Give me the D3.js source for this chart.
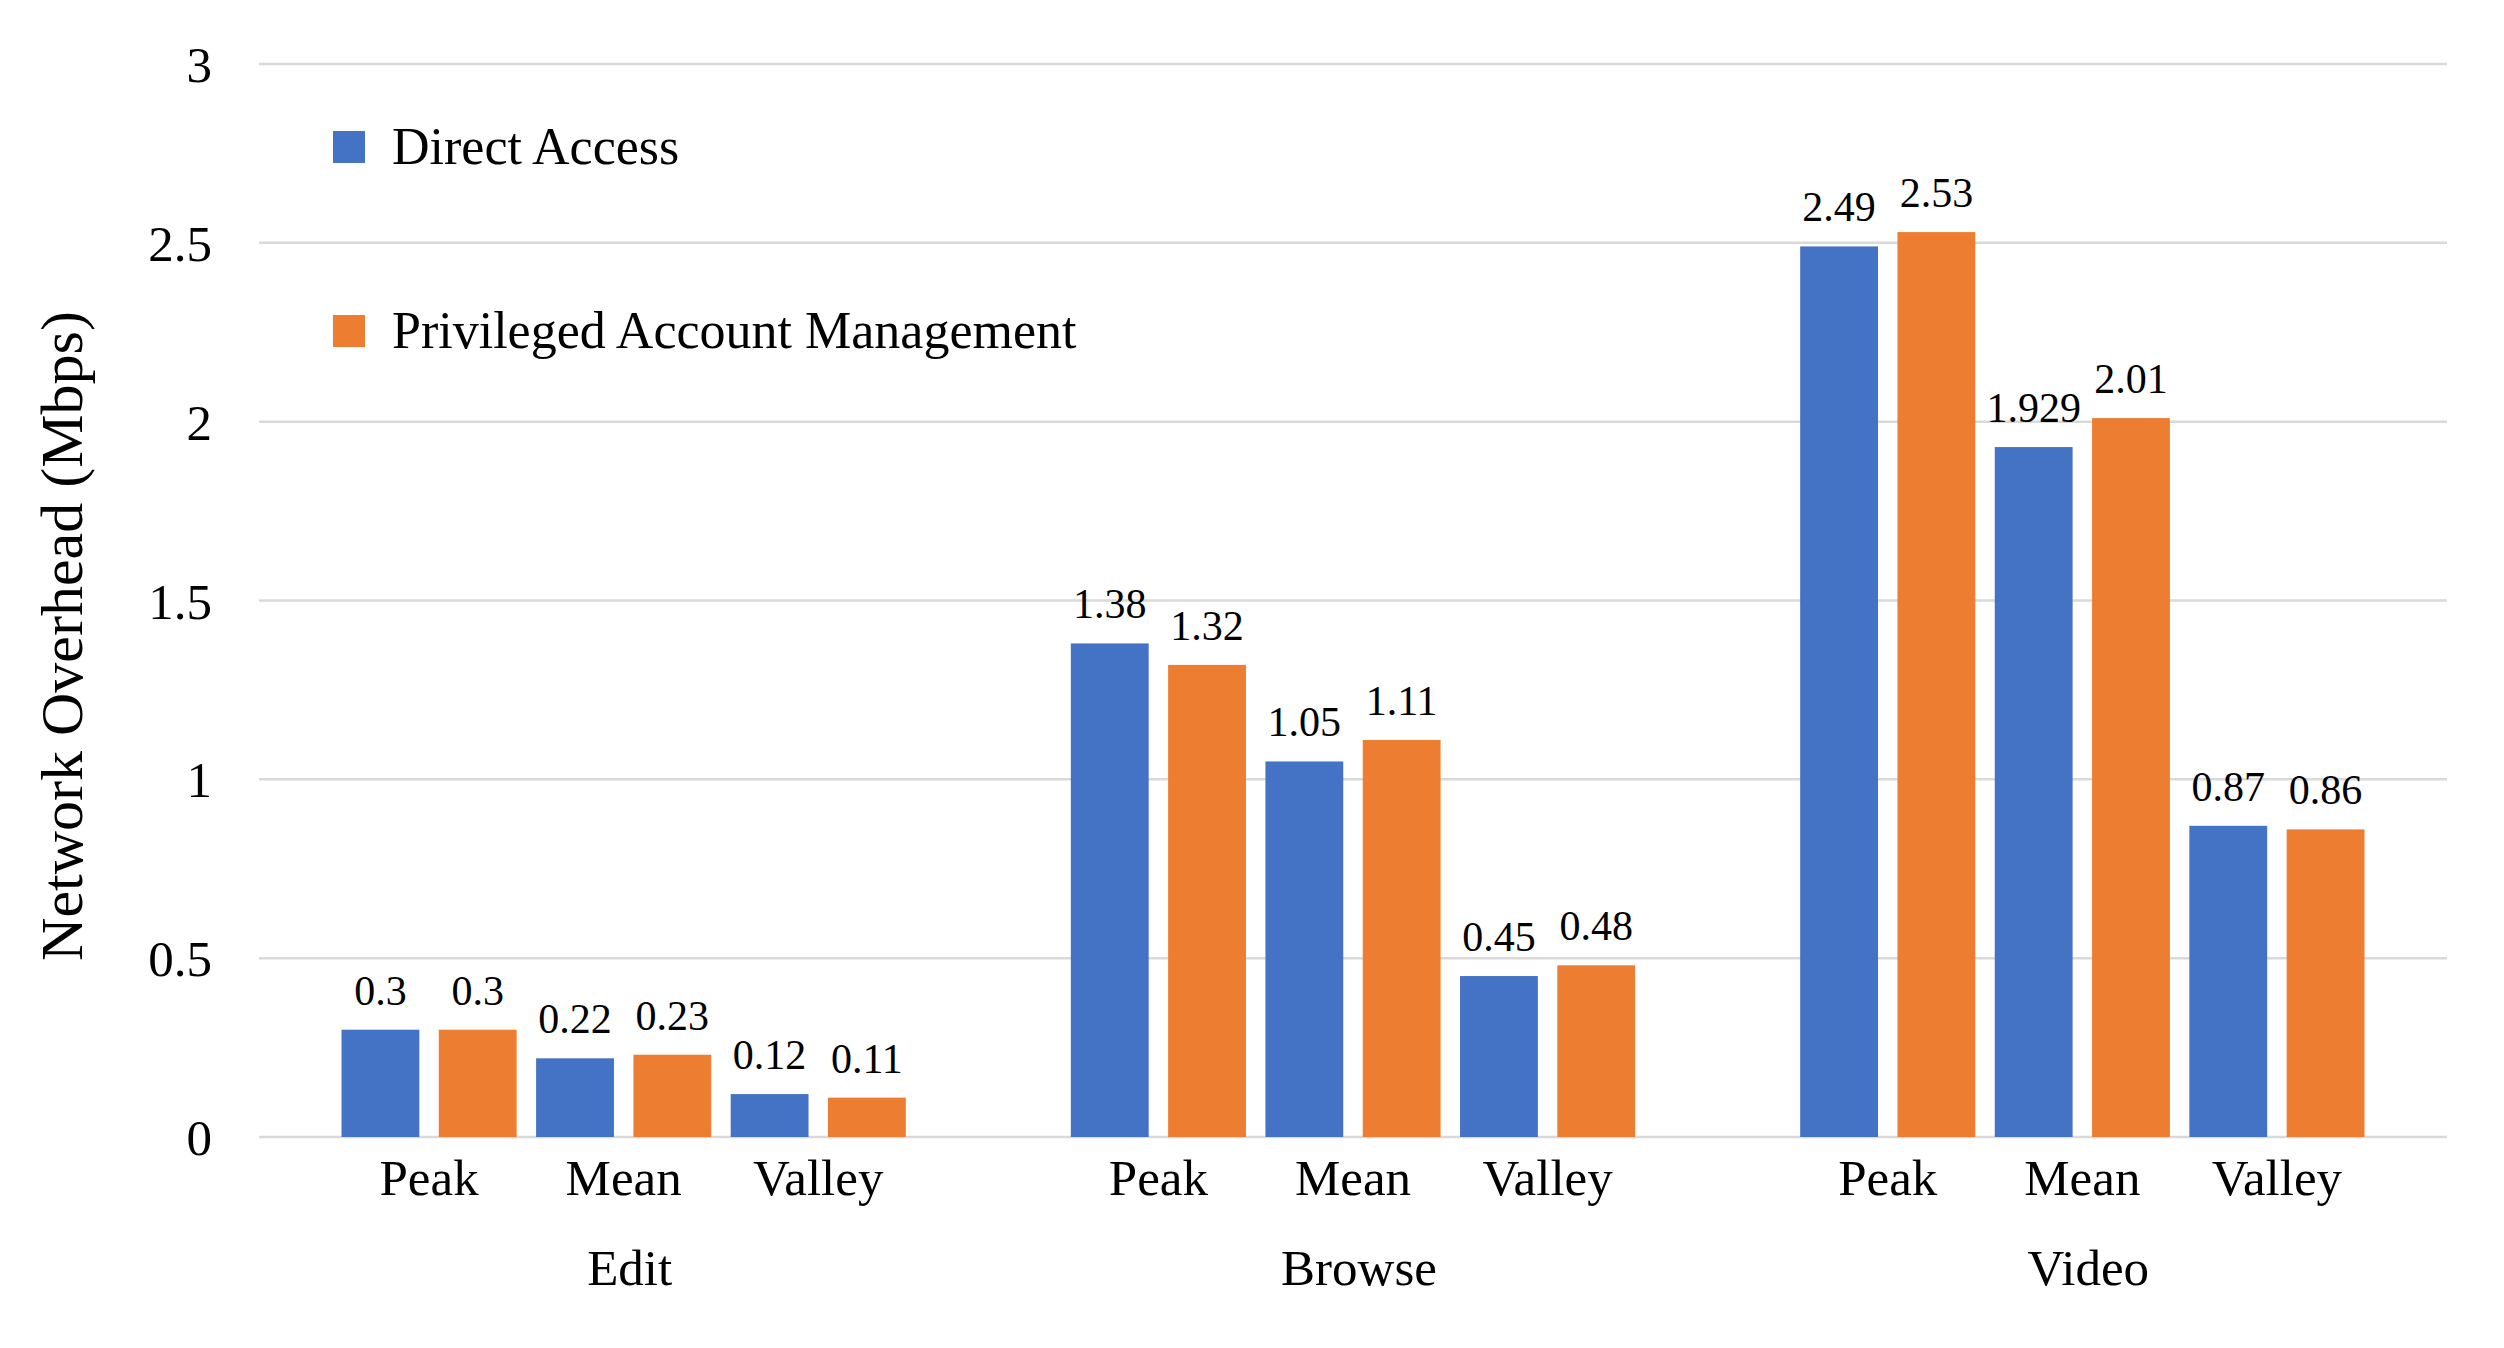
<!DOCTYPE html>
<html>
<head>
<meta charset="utf-8">
<script src="https://cdn.jsdelivr.net/npm/d3@7"></script>
<style>
  body { margin: 0; background: #fff; }
  text { font-family: "Liberation Serif", "Times New Roman", serif; fill: #000; }
</style>
</head>
<body>
<div id="canvas"></div>
<script>
const groups = ["Edit", "Browse", "Video"];
const subs = ["Peak", "Mean", "Valley"];
const series = ["Direct Access", "Privileged Account Management"];
const colors = ["#4472C4", "#ED7D31"];
const yTicks = [0, 0.5, 1, 1.5, 2, 2.5, 3];

// values per group, in order Peak, Mean, Valley
const directAccess = [
  [0.3, 0.22, 0.12],
  [1.38, 1.05, 0.45],
  [2.49, 1.929, 0.87]
];
const privileged = [
  [0.3, 0.23, 0.11],
  [1.32, 1.11, 0.48],
  [2.53, 2.01, 0.86]
];

const width = 2504;
const height = 1348;
const margin = { top: 64, left: 259, bottom: 211, right: 57 };
const iwidth = width - margin.left - margin.right;
const iheight = height - margin.top - margin.bottom;

const svg = d3.select("#canvas")
  .append("svg")
  .attr("width", width)
  .attr("height", height);

const g = svg.append("g")
  .attr("transform", `translate(${margin.left},${margin.top})`);

const y = d3.scaleLinear().domain([0, 3]).range([iheight, 0]);

const x0 = d3.scaleBand().domain(groups).range([0, iwidth]);
const x1 = d3.scaleBand().domain(subs).range([0, x0.bandwidth()])
  .paddingInner(0).paddingOuter(0.374);
const x2 = d3.scaleBand().domain(series).range([0, x1.bandwidth()])
  .paddingInner(0.2).paddingOuter(0.1);

// gridlines
g.append("g")
  .selectAll("line")
  .data(yTicks)
  .join("line")
  .attr("x1", 0)
  .attr("x2", iwidth)
  .attr("y1", d => y(d))
  .attr("y2", d => y(d))
  .attr("stroke", "#d9d9d9")
  .attr("stroke-width", 2.5);

// y tick labels
g.append("g")
  .selectAll("text")
  .data(yTicks)
  .join("text")
  .attr("x", -47)
  .attr("y", d => y(d) + 18)
  .attr("text-anchor", "end")
  .style("font-size", "51px")
  .text(d => d);

// bars
const rows = [];
groups.forEach((grp, gi) => {
  subs.forEach((s, si) => {
    rows.push({ grp, s, k: series[0], v: directAccess[gi][si], c: colors[0] });
    rows.push({ grp, s, k: series[1], v: privileged[gi][si], c: colors[1] });
  });
});

const bx = d => x0(d.grp) + x1(d.s) + x2(d.k);

g.append("g")
  .selectAll("rect")
  .data(rows)
  .join("rect")
  .attr("x", bx)
  .attr("y", d => y(d.v))
  .attr("width", x2.bandwidth())
  .attr("height", d => iheight - y(d.v))
  .attr("fill", d => d.c);

// value labels
g.append("g")
  .selectAll("text")
  .data(rows)
  .join("text")
  .attr("x", d => bx(d) + x2.bandwidth() / 2)
  .attr("y", d => y(d.v) - 25)
  .attr("text-anchor", "middle")
  .style("font-size", "42px")
  .text(d => d.v);

// sub category labels
groups.forEach(grp => {
  g.append("g")
    .selectAll("text")
    .data(subs)
    .join("text")
    .attr("x", d => x0(grp) + x1(d) + x1.bandwidth() / 2)
    .attr("y", iheight + 58)
    .attr("text-anchor", "middle")
    .style("font-size", "51px")
    .text(d => d);
});

// group labels
g.append("g")
  .selectAll("text")
  .data(groups)
  .join("text")
  .attr("x", d => x0(d) + x0.bandwidth() / 2 + 6)
  .attr("y", iheight + 148)
  .attr("text-anchor", "middle")
  .style("font-size", "51px")
  .text(d => d);

// y axis title
svg.append("text")
  .attr("transform", `translate(82, 636) rotate(-90)`)
  .attr("text-anchor", "middle")
  .style("font-size", "60px")
  .text("Network Overhead (Mbps)");

// legend
const legend = svg.append("g")
  .selectAll("g")
  .data(series)
  .join("g")
  .attr("transform", (d, i) => `translate(333, ${147 + i * 184})`);

legend.append("rect")
  .attr("x", 0)
  .attr("y", -16)
  .attr("width", 32)
  .attr("height", 32)
  .attr("fill", (d, i) => colors[i]);

legend.append("text")
  .attr("x", 59)
  .attr("y", 17)
  .style("font-size", "52px")
  .text(d => d);
</script>
</body>
</html>
